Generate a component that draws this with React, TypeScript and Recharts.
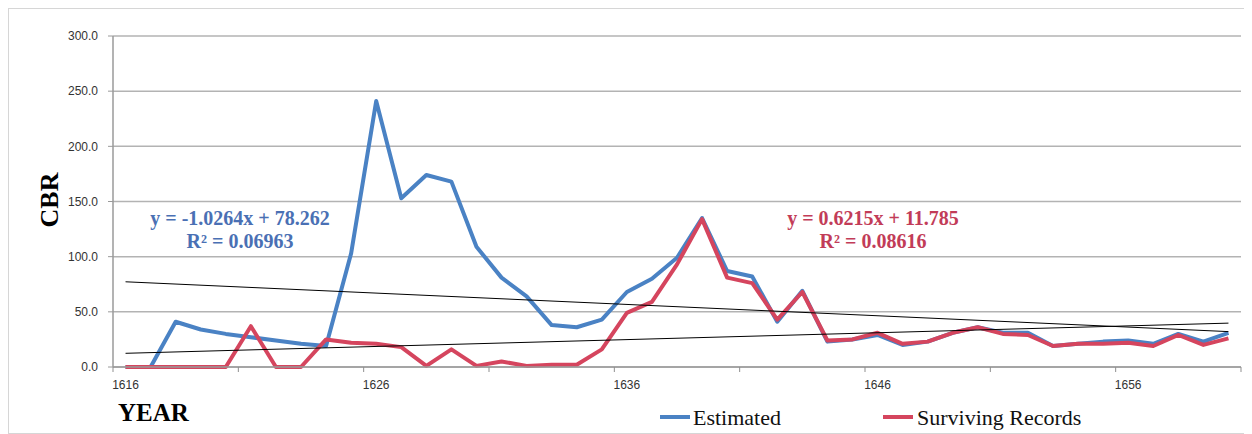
import React from 'react';
import { LineChart, Line, XAxis, YAxis, CartesianGrid, ReferenceLine } from 'recharts';

const years = [
  1616, 1617, 1618, 1619, 1620, 1621, 1622, 1623, 1624, 1625,
  1626, 1627, 1628, 1629, 1630, 1631, 1632, 1633, 1634, 1635,
  1636, 1637, 1638, 1639, 1640, 1641, 1642, 1643, 1644, 1645,
  1646, 1647, 1648, 1649, 1650, 1651, 1652, 1653, 1654, 1655,
  1656, 1657, 1658, 1659, 1660,
];

const estimated = [
  0, 0, 41, 34, 30, 27, 24, 21, 19, 103,
  241, 153, 174, 168, 109, 81, 64, 38, 36, 43,
  68, 80, 99, 135, 87, 82, 41, 69, 23, 25,
  29, 20, 23, 31, 36, 31, 31, 19, 21, 23,
  24, 21, 30, 23, 31,
];

const survivingRecords = [
  0, 0, 0, 0, 0, 37, 0, 0, 25, 22,
  21, 18, 1, 16, 1, 5, 1, 2, 2, 16,
  49, 59, 93, 134, 81, 76, 43, 68, 24, 25,
  31, 21, 23, 31, 36, 30, 29, 19, 21, 21,
  22, 19, 29, 20, 26,
];

const yTicks = [0, 50, 100, 150, 200, 250, 300];
const yearLabels = [1616, 1626, 1636, 1646, 1656];
// tick marks sit between categories, every 5 years
const tickMarks = [1615.5, 1620.5, 1625.5, 1630.5, 1635.5, 1640.5, 1645.5, 1650.5, 1655.5, 1660.5];

// linear trendlines as printed on the chart (x = 1..n)
const estTrend = { slope: -1.0264, intercept: 78.262 };
const survTrend = { slope: 0.6215, intercept: 11.785 };

const BLUE = '#4a82c4';
const RED = '#d5455e';
const SERIF = '"Liberation Serif", "Times New Roman", serif';
const SANS = '"Liberation Sans", Arial, sans-serif';

const data = years.map((year, i) => ({
  year,
  estimated: estimated[i],
  surviving: survivingRecords[i],
}));

const trendSegment = (t: { slope: number; intercept: number }) => [
  { x: years[0], y: t.slope * 1 + t.intercept },
  { x: years[years.length - 1], y: t.slope * years.length + t.intercept },
];

const YearTick = ({ x, y, payload }: any) => {
  const v = payload.value as number;
  if (!Number.isInteger(v)) {
    return <line x1={x} x2={x} y1={y} y2={y + 5} stroke="#8f8f8f" strokeWidth={1} />;
  }
  return (
    <text x={x} y={y + 22} textAnchor="middle" fontSize={12} fill="#333" fontFamily={SANS}>
      {v}
    </text>
  );
};

export default function App() {
  return (
    <div
      style={{
        position: 'relative',
        width: 1242,
        height: 424,
        border: '1px solid #d6d6d6',
        background: '#fff',
      }}
    >
      <LineChart
        width={1240}
        height={422}
        data={data}
        margin={{ top: 27, right: 8, left: 44, bottom: 34 }}
      >
        <CartesianGrid vertical={false} stroke="#b3b3b3" strokeWidth={1.5} />
        <XAxis
          dataKey="year"
          type="number"
          domain={[1615.5, 1660.5]}
          ticks={[...tickMarks, ...yearLabels].sort((a, b) => a - b)}
          interval={0}
          tickLine={false}
          tickSize={0}
          tickMargin={0}
          tick={<YearTick />}
          axisLine={{ stroke: '#9a9a9a', strokeWidth: 1.5 }}
          height={30}
        />
        <YAxis
          domain={[0, 300]}
          ticks={yTicks}
          tickFormatter={(v: number) => v.toFixed(1)}
          tick={{ fontSize: 12, fill: '#333', fontFamily: SANS }}
          tickSize={5}
          tickMargin={10}
          tickLine={{ stroke: '#9a9a9a' }}
          axisLine={{ stroke: '#9a9a9a', strokeWidth: 1.5 }}
          width={60}
        />
        <Line
          dataKey="estimated"
          stroke={BLUE}
          strokeWidth={4}
          dot={false}
          strokeLinejoin="round"
          isAnimationActive={false}
        />
        <Line
          dataKey="surviving"
          stroke={RED}
          strokeWidth={4}
          dot={false}
          strokeLinejoin="round"
          isAnimationActive={false}
        />
        <ReferenceLine segment={trendSegment(estTrend)} stroke="#000" strokeWidth={1} />
        <ReferenceLine segment={trendSegment(survTrend)} stroke="#000" strokeWidth={1} />
      </LineChart>

      <svg
        width={1242}
        height={424}
        style={{ position: 'absolute', left: 0, top: 0, pointerEvents: 'none' }}
      >
        <text
          transform="translate(49,191) rotate(-90)"
          textAnchor="middle"
          fontFamily={SERIF}
          fontWeight="bold"
          fontSize={26}
          fill="#000"
        >
          CBR
        </text>
        <text x={109} y={412} fontFamily={SERIF} fontWeight="bold" fontSize={25} fill="#000">
          YEAR
        </text>

        <g fontFamily={SERIF} fontWeight="bold" fontSize={20} textAnchor="middle">
          <text x={231} y={216} fill="#4a70b4">y = -1.0264x + 78.262</text>
          <text x={231} y={239} fill="#4a70b4">R² = 0.06963</text>
          <text x={864} y={216} fill="#c23c58">y = 0.6215x + 11.785</text>
          <text x={864} y={239} fill="#c23c58">R² = 0.08616</text>
        </g>

        <line x1={651} x2={681} y1={408} y2={408} stroke={BLUE} strokeWidth={4} />
        <text x={684} y={416} fontFamily={SERIF} fontSize={22} fill="#111">Estimated</text>
        <line x1={874} x2={904} y1={408} y2={408} stroke={RED} strokeWidth={4} />
        <text x={908} y={416} fontFamily={SERIF} fontSize={22} fill="#111">Surviving Records</text>
      </svg>
    </div>
  );
}
